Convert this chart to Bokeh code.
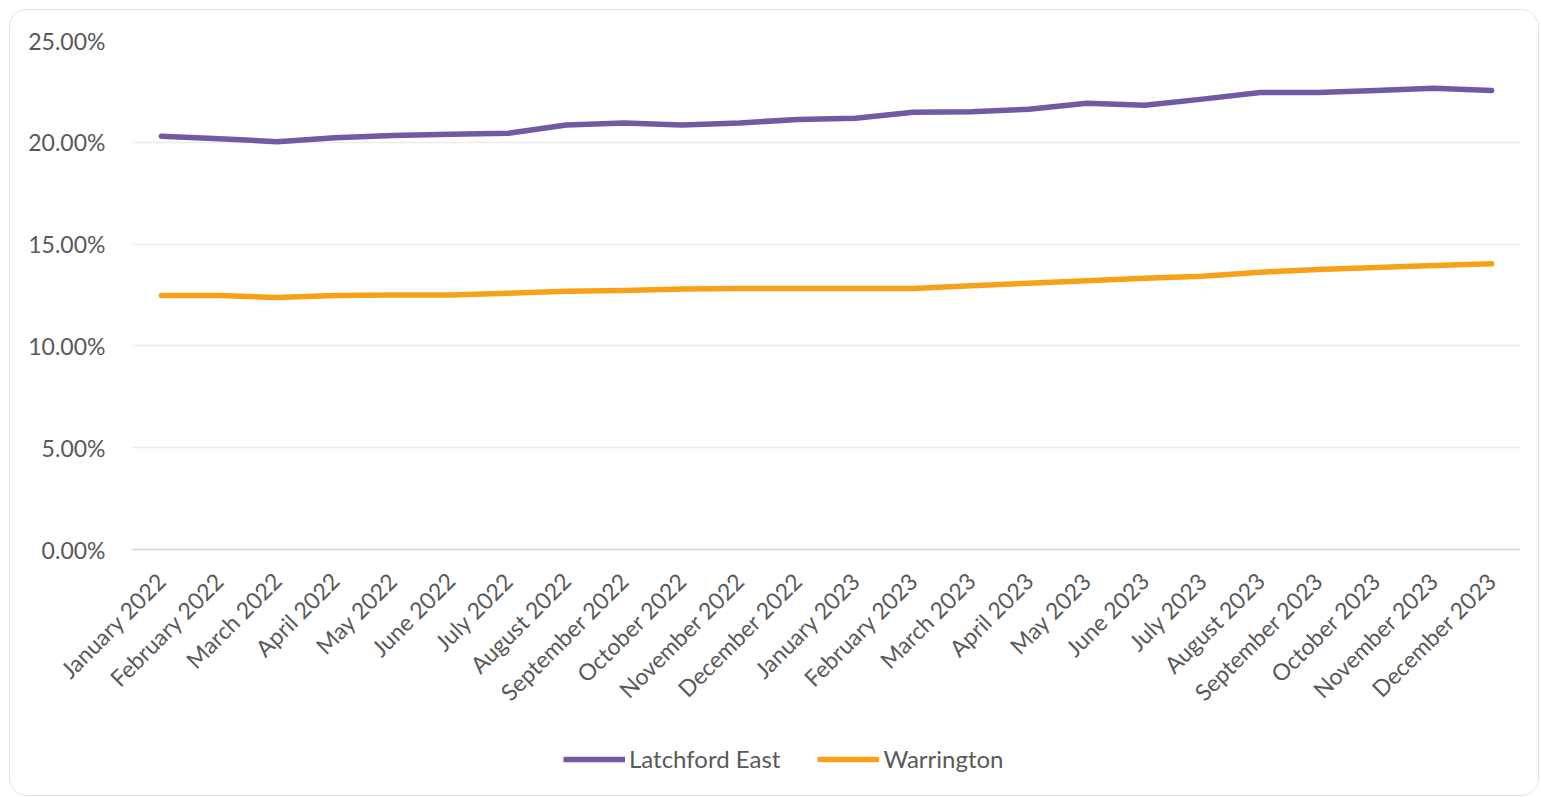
import math
from bokeh.plotting import figure
from bokeh.layouts import column
from bokeh.models import (Range1d, FixedTicker, PrintfTickFormatter, Legend, LegendItem)
from bokeh.embed import file_html
from bokeh.resources import INLINE

months = ["January 2022", "February 2022", "March 2022", "April 2022", "May 2022", "June 2022",
          "July 2022", "August 2022", "September 2022", "October 2022", "November 2022", "December 2022",
          "January 2023", "February 2023", "March 2023", "April 2023", "May 2023", "June 2023",
          "July 2023", "August 2023", "September 2023", "October 2023", "November 2023", "December 2023"]

latchford_east = [20.30, 20.18, 20.03, 20.22, 20.33, 20.40, 20.44, 20.85, 20.95, 20.85, 20.95, 21.12,
                  21.18, 21.48, 21.50, 21.62, 21.92, 21.82, 22.12, 22.45, 22.45, 22.55, 22.65, 22.55]
warrington = [12.48, 12.48, 12.38, 12.47, 12.50, 12.50, 12.58, 12.68, 12.72, 12.80, 12.82, 12.82,
              12.82, 12.82, 12.95, 13.08, 13.20, 13.32, 13.42, 13.62, 13.75, 13.85, 13.95, 14.03]

y_ticks = [0, 5, 10, 15, 20, 25]
series_names = ["Latchford East", "Warrington"]
colors = ["#7159A3", "#F7A11A"]

FONT = "Lato"
TXT = "#595959"

x = list(range(len(months)))

p = figure(frame_width=1388, frame_height=509, output_backend="svg", toolbar_location=None,
           x_range=Range1d(-0.5, len(months) - 0.5), y_range=Range1d(0, 25),
           min_border_left=122, min_border_right=18, min_border_top=30, min_border_bottom=180)
p.outline_line_color = None
p.background_fill_color = "white"
p.border_fill_color = "white"

r1 = p.line(x, latchford_east, line_color=colors[0], line_width=5.5, line_join="round", line_cap="round")
r2 = p.line(x, warrington, line_color=colors[1], line_width=5.5, line_join="round", line_cap="round")

# y axis
p.yaxis.ticker = FixedTicker(ticks=y_ticks)
p.yaxis.formatter = PrintfTickFormatter(format="%.2f%%")
p.yaxis.axis_line_color = None
p.yaxis.major_tick_line_color = None
p.yaxis.minor_tick_line_color = None
p.yaxis.major_tick_in = 0
p.yaxis.major_tick_out = 0
p.yaxis.major_label_standoff = 27
p.yaxis.major_label_text_font = FONT
p.yaxis.major_label_text_font_size = "23px"
p.yaxis.major_label_text_color = TXT

# x axis
p.xaxis.ticker = FixedTicker(ticks=x)
p.xaxis.major_label_overrides = {i: m for i, m in enumerate(months)}
p.xaxis.major_label_orientation = math.pi / 4
p.xaxis.axis_line_color = "#d6d6d6"
p.xaxis.axis_line_width = 1.5
p.xaxis.major_tick_line_color = None
p.xaxis.minor_tick_line_color = None
p.xaxis.major_tick_in = 0
p.xaxis.major_tick_out = 0
p.xaxis.major_label_standoff = 27
p.xaxis.major_label_text_font = FONT
p.xaxis.major_label_text_font_size = "23px"
p.xaxis.major_label_text_color = TXT

p.xgrid.grid_line_color = None
p.ygrid.ticker = FixedTicker(ticks=y_ticks[1:])
p.ygrid.grid_line_color = "#ececec"
p.ygrid.grid_line_width = 1.5

# legend strip below the chart
lg = figure(width=1528, height=66, output_backend="svg", toolbar_location=None,
            x_axis_type=None, y_axis_type=None,
            x_range=Range1d(-0.5, len(months) - 0.5), y_range=Range1d(0, 25),
            min_border_left=0, min_border_right=0, min_border_top=0, min_border_bottom=0)
lg.outline_line_color = None
lg.xgrid.visible = False
lg.ygrid.visible = False
lg.border_fill_color = "white"
l1 = lg.line(x, latchford_east, line_color=colors[0], line_width=5.5, visible=False)
l2 = lg.line(x, warrington, line_color=colors[1], line_width=5.5, visible=False)

legend = Legend(items=[LegendItem(label=series_names[0], renderers=[l1]),
                       LegendItem(label=series_names[1], renderers=[l2])],
                location=(431, 22), orientation="horizontal", padding=0, margin=0,
                spacing=37, border_line_color=None, background_fill_alpha=0,
                click_policy="none",
                glyph_width=62, glyph_height=28, label_height=28, label_standoff=4,
                label_text_font=FONT, label_text_font_size="24px", label_text_color=TXT)
lg.add_layout(legend, "center")

layout = column(p, lg, spacing=0)
layout.styles = {"border": "1px solid #e2e2e2", "border-radius": "18px",
                 "margin-left": "9px", "margin-top": "9px", "overflow": "hidden"}

open("out.html", "w").write(file_html(layout, INLINE))
